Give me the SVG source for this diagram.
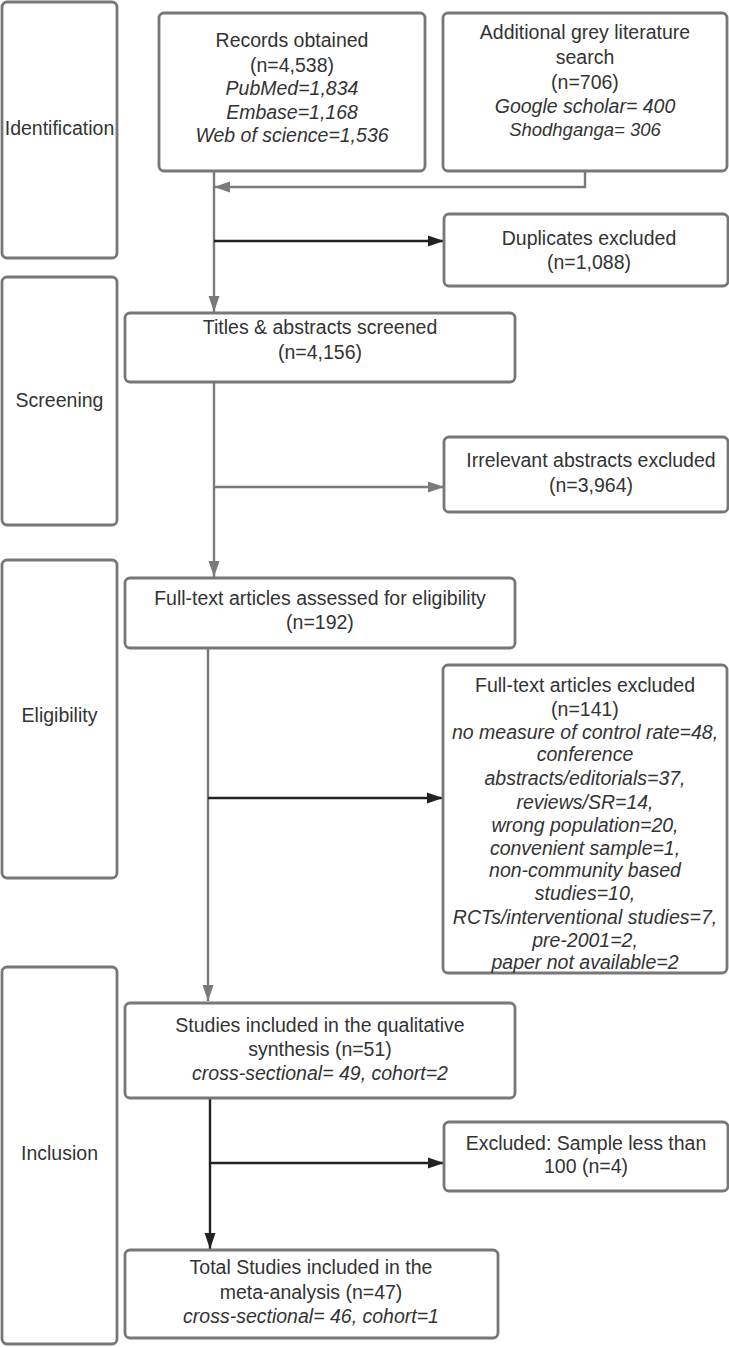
<svg xmlns="http://www.w3.org/2000/svg" width="729" height="1347" viewBox="0 0 729 1347">
<style>
.box{fill:#fff;stroke:#777;stroke-width:2.8}
.t{font-family:"Liberation Sans",Arial,sans-serif;font-size:19.5px;fill:#333;text-anchor:middle}
.i{font-style:italic}
.g{stroke:#7a7a7a;stroke-width:2.4;fill:none}
.k{stroke:#222;stroke-width:2.4;fill:none}
</style>
<defs>
<marker id="ag" markerWidth="16" markerHeight="12" refX="16" refY="6" orient="auto" markerUnits="userSpaceOnUse"><path d="M0,0.5 L16,6 L0,11.5 z" fill="#7a7a7a"/></marker>
<marker id="ak" markerWidth="16" markerHeight="12" refX="16" refY="6" orient="auto" markerUnits="userSpaceOnUse"><path d="M0,0.5 L16,6 L0,11.5 z" fill="#222"/></marker>
</defs>
<rect width="729" height="1347" fill="#fff"/>

<g id="stage-identification"><rect class="box" x="2" y="2" width="115" height="256" rx="5"/><text class="t" x="59.5" y="135">Identification</text></g>
<g id="stage-screening"><rect class="box" x="2" y="277" width="115" height="248" rx="5"/><text class="t" x="59.5" y="407">Screening</text></g>
<g id="stage-eligibility"><rect class="box" x="2" y="560" width="115" height="318" rx="5"/><text class="t" x="59.5" y="722">Eligibility</text></g>
<g id="stage-inclusion"><rect class="box" x="2" y="967" width="115" height="377" rx="5"/><text class="t" x="59.5" y="1160">Inclusion</text></g>

<g id="connectors">
<path class="g" d="M585,171 V187 H214" marker-end="url(#ag)"/>
<path class="g" d="M214,171 V312" marker-end="url(#ag)"/>
<path class="k" d="M214,241 H444" marker-end="url(#ak)"/>
<path class="g" d="M214,382 V577" marker-end="url(#ag)"/>
<path class="g" d="M214,487 H444" marker-end="url(#ag)"/>
<path class="g" d="M208,648 V1001" marker-end="url(#ag)"/>
<path class="k" d="M208,798 H443" marker-end="url(#ak)"/>
<path class="k" d="M210,1098 V1249" marker-end="url(#ak)"/>
<path class="k" d="M210,1163 H444" marker-end="url(#ak)"/>
</g>

<g id="records"><rect class="box" x="159" y="13" width="266" height="158" rx="5"/>
<text class="t" x="292" y="47">Records obtained</text>
<text class="t" x="292" y="72">(n=4,538)</text>
<text class="t i" x="292" y="95">PubMed=1,834</text>
<text class="t i" x="292" y="119">Embase=1,168</text>
<text class="t i" x="292" y="142">Web of science=1,536</text></g>

<g id="grey-literature"><rect class="box" x="443" y="13" width="284" height="158" rx="5"/>
<text class="t" x="585" y="39">Additional grey literature</text>
<text class="t" x="585" y="64">search</text>
<text class="t" x="585" y="89">(n=706)</text>
<text class="t i" x="585" y="113">Google scholar= 400</text>
<text class="t i" x="585" y="136" style="font-size:18.5px">Shodhganga= 306</text></g>

<g id="duplicates"><rect class="box" x="444" y="214" width="284" height="72" rx="5"/>
<text class="t" x="589" y="245">Duplicates excluded</text>
<text class="t" x="589" y="269">(n=1,088)</text></g>

<g id="titles"><rect class="box" x="125" y="313" width="390" height="69" rx="5"/>
<text class="t" x="320" y="334">Titles &amp; abstracts screened</text>
<text class="t" x="320" y="359">(n=4,156)</text></g>

<g id="irrelevant"><rect class="box" x="444" y="437" width="284" height="75" rx="5"/>
<text class="t" x="591" y="467">Irrelevant abstracts excluded</text>
<text class="t" x="591" y="492">(n=3,964)</text></g>

<g id="fulltext"><rect class="box" x="125" y="578" width="390" height="70" rx="5"/>
<text class="t" x="320" y="605">Full-text articles assessed for eligibility</text>
<text class="t" x="320" y="629">(n=192)</text></g>

<g id="fulltext-excluded"><rect class="box" x="443" y="665" width="284" height="308" rx="5"/>
<text class="t" x="585" y="692">Full-text articles excluded</text>
<text class="t" x="585" y="716">(n=141)</text>
<text class="t i" x="585" y="739">no measure of control rate=48,</text>
<text class="t i" x="585" y="761">conference</text>
<text class="t i" x="585" y="785">abstracts/editorials=37,</text>
<text class="t i" x="585" y="809">reviews/SR=14,</text>
<text class="t i" x="585" y="832">wrong population=20,</text>
<text class="t i" x="585" y="855">convenient sample=1,</text>
<text class="t i" x="585" y="877">non-community based</text>
<text class="t i" x="585" y="900">studies=10,</text>
<text class="t i" x="585" y="924">RCTs/interventional studies=7,</text>
<text class="t i" x="585" y="947">pre-2001=2,</text>
<text class="t i" x="585" y="969">paper not available=2</text></g>

<g id="qualitative"><rect class="box" x="125" y="1003" width="390" height="95" rx="5"/>
<text class="t" x="320" y="1032">Studies included in the qualitative</text>
<text class="t" x="320" y="1056">synthesis (n=51)</text>
<text class="t i" x="320" y="1080">cross-sectional= 49, cohort=2</text></g>

<g id="sample-excluded"><rect class="box" x="444" y="1122" width="284" height="69" rx="5"/>
<text class="t" x="586" y="1150">Excluded: Sample less than</text>
<text class="t" x="586" y="1173">100 (n=4)</text></g>

<g id="meta-analysis"><rect class="box" x="125" y="1250" width="373" height="88" rx="5"/>
<text class="t" x="311" y="1274">Total Studies included in the</text>
<text class="t" x="311" y="1299">meta-analysis (n=47)</text>
<text class="t i" x="311" y="1323">cross-sectional= 46, cohort=1</text></g>
</svg>
